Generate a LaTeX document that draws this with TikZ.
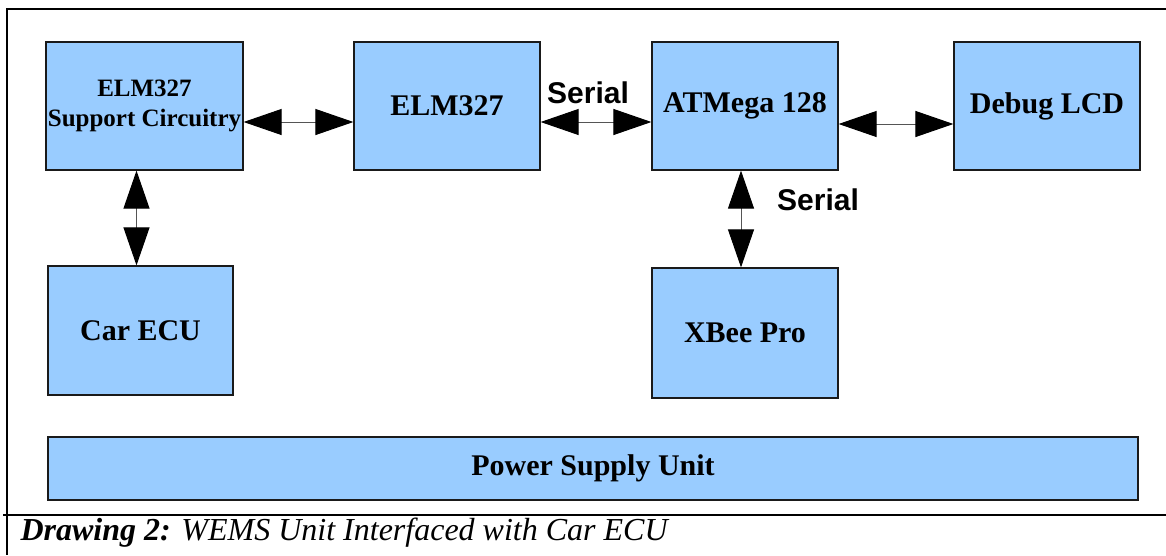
\documentclass[tikz,border=0pt]{standalone}
\usepackage{fontspec}
\setmainfont{Liberation Serif}
\newfontfamily\labelfont{Liberation Sans}
\usetikzlibrary{arrows.meta}
\definecolor{BoxFill}{HTML}{99CCFF}
\definecolor{BoxLine}{HTML}{1A1A1A}
\definecolor{Wire}{HTML}{555555}

\begin{document}
\begin{tikzpicture}[x=1pt,y=-1pt,
  blk/.style={draw=BoxLine,fill=BoxFill,line width=1.2pt,inner sep=0pt,align=center,font=\fontsize{30}{34}\selectfont\bfseries},
  link/.style={Wire,line width=1pt,{Triangle[length=38pt,width=26pt,color=black]}-{Triangle[length=38pt,width=26pt,color=black]}},
  serial/.style={font=\labelfont\fontsize{30}{34}\selectfont\bfseries}]
\useasboundingbox (0,0) rectangle (1166,555);
\draw[line width=1.2pt] (1166,9)--(7,9)--(7,555);\draw[line width=1.2pt] (3,515)--(1166,515);
% top row
\node[blk,minimum width=197,minimum height=128,font=\fontsize{25}{30}\selectfont\bfseries] (supp) at (144.5,106){ELM327\\Support Circuitry};
\node[blk,minimum width=186,minimum height=128] (elm) at (447,106){ELM327};
\node[blk,minimum width=186,minimum height=128] (atm) at (745,106){ATMega 128};
\node[blk,minimum width=186,minimum height=128] (lcd) at (1047,106){Debug LCD};
% lower boxes
\node[blk,minimum width=185,minimum height=129] (ecu) at (140.5,330.5){Car ECU};
\node[blk,minimum width=186,minimum height=130] (xbee) at (745,333){XBee Pro};
\node[blk,minimum width=1090,minimum height=63] (psu) at (593,468.5){Power Supply Unit};
% links
\draw[link] ([yshift=-16pt]supp.east)--([yshift=-16pt]elm.west);
\draw[link] ([yshift=-16pt]elm.east)--([yshift=-16pt]atm.west);
\draw[link] ([yshift=-18pt]atm.east)--([yshift=-18pt]lcd.west);
\draw[link] ([xshift=-8pt]supp.south)--([xshift=-8pt]supp.south|-ecu.north);
\draw[link] ([xshift=-4pt]atm.south)--([xshift=-4pt]xbee.north);
\node[serial] (ser1) at (588,93){Serial};\node[serial] (ser2) at (818,200){Serial};
\node[anchor=west,font=\fontsize{32}{36}\selectfont] (cap) at (17,533){\textbf{\textit{Drawing 2:}} \textit{WEMS Unit Interfaced with Car ECU}};
\end{tikzpicture}
\end{document}
